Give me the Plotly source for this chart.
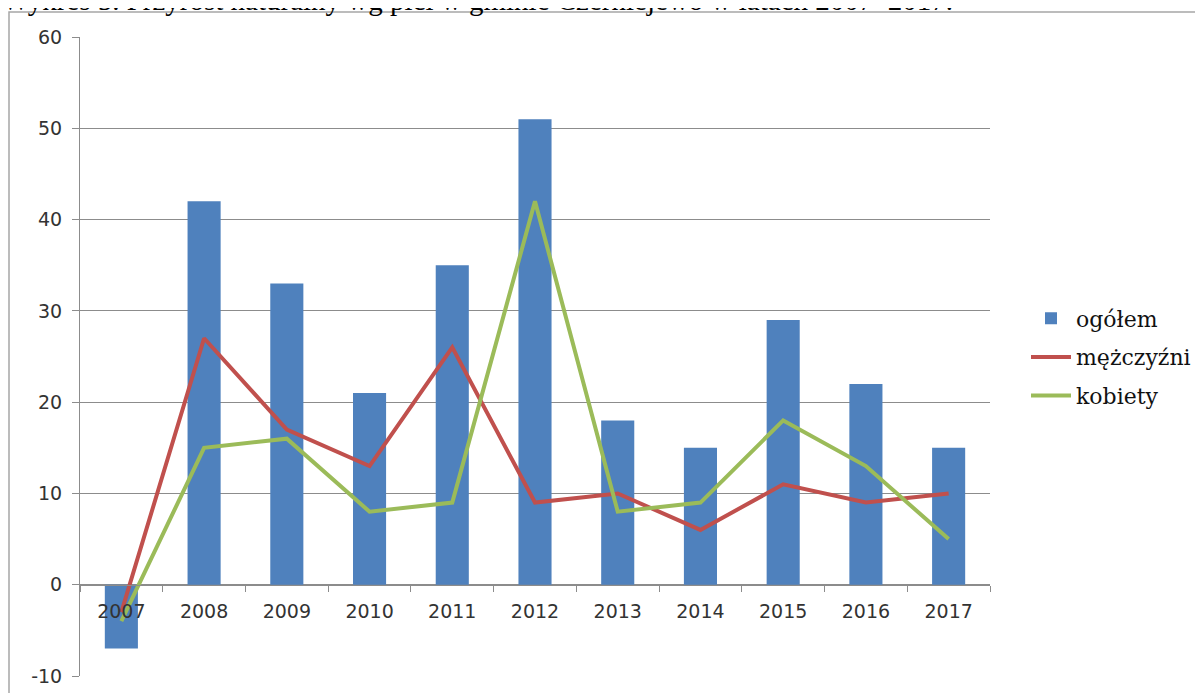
import plotly.graph_objects as go

years = ["2007", "2008", "2009", "2010", "2011", "2012", "2013", "2014", "2015", "2016", "2017"]
ogolem = [-7, 42, 33, 21, 35, 51, 18, 15, 29, 22, 15]
mezczyzni = [-3, 27, 17, 13, 26, 9, 10, 6, 11, 9, 10]
kobiety = [-4, 15, 16, 8, 9, 42, 8, 9, 18, 13, 5]
y_ticks = [-10, 0, 10, 20, 30, 40, 50, 60]
y_tick_labels = ["-10", "0", "10", "20", "30", "40", "50", "60"]

title_text = "Wykres 5. Przyrost naturalny wg płci w gminie Czerniejewo w latach 2007–2017."

OFF = 8  # default page body margin
W, H = 1203 - OFF, 693 - OFF
# plot area in screen pixels: x 80..990, y 37..676
L = 80 - OFF
T = 37 - OFF
R = W - (990 - OFF)
B = H - (676 - OFF)
pw, ph = W - L - R, H - T - B

def px_x(p):  # screen pixel -> paper fraction
    return (p - OFF - L) / pw

def px_y(p):
    return (H - B - (p - OFF)) / ph

fig = go.Figure()
fig.add_trace(go.Bar(x=years, y=ogolem, name="ogółem", marker=dict(color="#4F81BD", line=dict(width=0)),
                     legendgroup="a"))
fig.add_trace(go.Scatter(x=years, y=mezczyzni, name="mężczyźni", mode="lines",
                         line=dict(color="#C0504D", width=4), legendgroup="b"))
fig.add_trace(go.Scatter(x=years, y=kobiety, name="kobiety", mode="lines",
                         line=dict(color="#9BBB59", width=4), legendgroup="c"))

ymin, ymax = -10, 60
zero_pos = (0 - ymin) / (ymax - ymin)

fig.update_layout(
    width=W, height=H,
    margin=dict(l=L, r=R, t=T, b=B, autoexpand=False),
    paper_bgcolor="white", plot_bgcolor="white",
    bargap=0.6,
    showlegend=True,
    legend=dict(x=px_x(1026), y=px_y(357), xanchor="left", yanchor="middle",
                font=dict(family="DejaVu Serif", size=22, color="#111111"),
                traceorder="grouped", tracegroupgap=7, itemwidth=40,
                bgcolor="rgba(0,0,0,0)"),
    xaxis=dict(type="category", anchor="free", position=zero_pos,
               showline=True, linecolor="#8C8C8C", linewidth=1,
               ticks="outside", ticklen=6, tickcolor="#8C8C8C", tickson="boundaries",
               showgrid=False, zeroline=False,
               tickfont=dict(family="DejaVu Sans", size=19, color="#333333"),
               ticklabelstandoff=9),
    yaxis=dict(range=[ymin, ymax], tickvals=y_ticks, ticktext=y_tick_labels,
               showgrid=True, gridcolor="#8C8C8C", gridwidth=1,
               showline=True, linecolor="#8C8C8C", linewidth=1,
               ticks="outside", ticklen=7, tickcolor="#8C8C8C",
               zeroline=False,
               tickfont=dict(family="DejaVu Sans", size=19, color="#333333"),
               ticklabelstandoff=6),
    font=dict(family="DejaVu Sans"),
)

fig.add_shape(type="rect", xref="paper", yref="paper",
              x0=px_x(9), x1=px_x(1260), y0=px_y(740), y1=px_y(12),
              line=dict(color="#A6A6A6", width=1.5), fillcolor="rgba(0,0,0,0)", layer="below")

fig.add_annotation(text=title_text, xref="paper", yref="paper",
                   x=px_x(0), y=px_y(18), xanchor="left", yanchor="bottom",
                   showarrow=False,
                   font=dict(family="Liberation Serif", size=29, color="#000000"))

fig.write_html("out.html")
